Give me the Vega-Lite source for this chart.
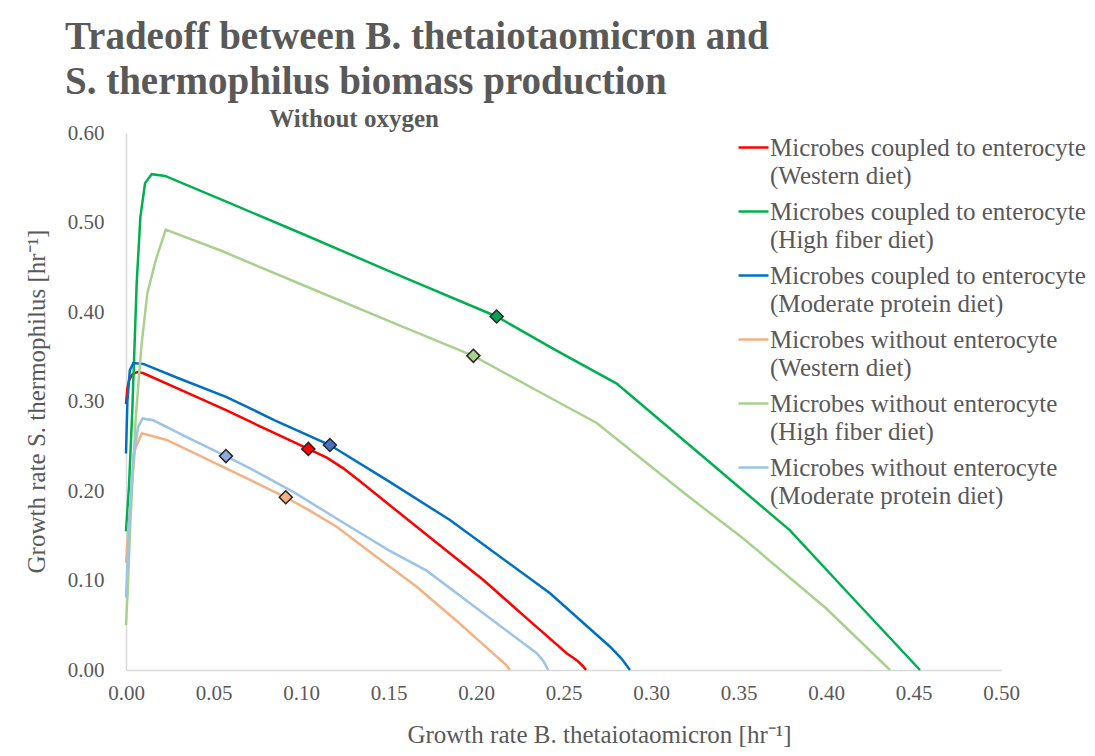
{
  "$schema": "https://vega.github.io/schema/vega-lite/v6.json",
  "width": 875,
  "height": 537,
  "autosize": {"type": "none"},
  "padding": {"left": 126, "top": 133, "right": 94, "bottom": 86},
  "background": "white",
  "title": {
    "text": ["Tradeoff between B. thetaiotaomicron and", "S. thermophilus biomass production"],
    "anchor": "start",
    "frame": "group",
    "dx": -61,
    "offset": 5,
    "font": "Liberation Serif",
    "fontSize": 39,
    "fontWeight": "bold",
    "color": "#595959",
    "lineHeight": 45
  },
  "config": {
    "view": {"stroke": null},
    "axis": {
      "domainColor": "#d9d9d9",
      "domainWidth": 1.5,
      "ticks": false,
      "grid": false,
      "labelFlush": false,
      "labelFont": "Liberation Serif",
      "labelFontSize": 21,
      "labelColor": "#595959",
      "titleFont": "Liberation Serif",
      "titleFontSize": 25,
      "titleFontWeight": "normal",
      "titleColor": "#595959"
    }
  },
  "datasets": {
    "lines": [
      {"s": "Microbes coupled to enterocyte|(Western diet)", "x": 0, "y": 0.297},
      {"s": "Microbes coupled to enterocyte|(Western diet)", "x": 0.0008, "y": 0.315},
      {"s": "Microbes coupled to enterocyte|(Western diet)", "x": 0.0018, "y": 0.324},
      {"s": "Microbes coupled to enterocyte|(Western diet)", "x": 0.0035, "y": 0.330},
      {"s": "Microbes coupled to enterocyte|(Western diet)", "x": 0.0065, "y": 0.333},
      {"s": "Microbes coupled to enterocyte|(Western diet)", "x": 0.0100, "y": 0.3315},
      {"s": "Microbes coupled to enterocyte|(Western diet)", "x": 0.030, "y": 0.314},
      {"s": "Microbes coupled to enterocyte|(Western diet)", "x": 0.0575, "y": 0.290},
      {"s": "Microbes coupled to enterocyte|(Western diet)", "x": 0.080, "y": 0.269},
      {"s": "Microbes coupled to enterocyte|(Western diet)", "x": 0.1042, "y": 0.247},
      {"s": "Microbes coupled to enterocyte|(Western diet)", "x": 0.115, "y": 0.237},
      {"s": "Microbes coupled to enterocyte|(Western diet)", "x": 0.1242, "y": 0.2253},
      {"s": "Microbes coupled to enterocyte|(Western diet)", "x": 0.135, "y": 0.209},
      {"s": "Microbes coupled to enterocyte|(Western diet)", "x": 0.147, "y": 0.190},
      {"s": "Microbes coupled to enterocyte|(Western diet)", "x": 0.175, "y": 0.146},
      {"s": "Microbes coupled to enterocyte|(Western diet)", "x": 0.2042, "y": 0.1006},
      {"s": "Microbes coupled to enterocyte|(Western diet)", "x": 0.230, "y": 0.056},
      {"s": "Microbes coupled to enterocyte|(Western diet)", "x": 0.2518, "y": 0.0187},
      {"s": "Microbes coupled to enterocyte|(Western diet)", "x": 0.2575, "y": 0.011},
      {"s": "Microbes coupled to enterocyte|(Western diet)", "x": 0.2610, "y": 0.0045},
      {"s": "Microbes coupled to enterocyte|(Western diet)", "x": 0.2629, "y": 0},

      {"s": "Microbes coupled to enterocyte|(High fiber diet)", "x": 0, "y": 0.155},
      {"s": "Microbes coupled to enterocyte|(High fiber diet)", "x": 0.0017, "y": 0.205},
      {"s": "Microbes coupled to enterocyte|(High fiber diet)", "x": 0.0036, "y": 0.29},
      {"s": "Microbes coupled to enterocyte|(High fiber diet)", "x": 0.0061, "y": 0.432},
      {"s": "Microbes coupled to enterocyte|(High fiber diet)", "x": 0.0082, "y": 0.506},
      {"s": "Microbes coupled to enterocyte|(High fiber diet)", "x": 0.0109, "y": 0.544},
      {"s": "Microbes coupled to enterocyte|(High fiber diet)", "x": 0.0147, "y": 0.554},
      {"s": "Microbes coupled to enterocyte|(High fiber diet)", "x": 0.0223, "y": 0.552},
      {"s": "Microbes coupled to enterocyte|(High fiber diet)", "x": 0.060, "y": 0.521},
      {"s": "Microbes coupled to enterocyte|(High fiber diet)", "x": 0.100, "y": 0.488},
      {"s": "Microbes coupled to enterocyte|(High fiber diet)", "x": 0.150, "y": 0.446},
      {"s": "Microbes coupled to enterocyte|(High fiber diet)", "x": 0.2118, "y": 0.395},
      {"s": "Microbes coupled to enterocyte|(High fiber diet)", "x": 0.245, "y": 0.358},
      {"s": "Microbes coupled to enterocyte|(High fiber diet)", "x": 0.2804, "y": 0.320},
      {"s": "Microbes coupled to enterocyte|(High fiber diet)", "x": 0.330, "y": 0.238},
      {"s": "Microbes coupled to enterocyte|(High fiber diet)", "x": 0.3794, "y": 0.156},
      {"s": "Microbes coupled to enterocyte|(High fiber diet)", "x": 0.415, "y": 0.081},
      {"s": "Microbes coupled to enterocyte|(High fiber diet)", "x": 0.4537, "y": 0},

      {"s": "Microbes coupled to enterocyte|(Moderate protein diet)", "x": 0, "y": 0.242},
      {"s": "Microbes coupled to enterocyte|(Moderate protein diet)", "x": 0.0008, "y": 0.300},
      {"s": "Microbes coupled to enterocyte|(Moderate protein diet)", "x": 0.0022, "y": 0.335},
      {"s": "Microbes coupled to enterocyte|(Moderate protein diet)", "x": 0.0042, "y": 0.343},
      {"s": "Microbes coupled to enterocyte|(Moderate protein diet)", "x": 0.0099, "y": 0.342},
      {"s": "Microbes coupled to enterocyte|(Moderate protein diet)", "x": 0.030, "y": 0.326},
      {"s": "Microbes coupled to enterocyte|(Moderate protein diet)", "x": 0.0575, "y": 0.305},
      {"s": "Microbes coupled to enterocyte|(Moderate protein diet)", "x": 0.085, "y": 0.279},
      {"s": "Microbes coupled to enterocyte|(Moderate protein diet)", "x": 0.1165, "y": 0.2514},
      {"s": "Microbes coupled to enterocyte|(Moderate protein diet)", "x": 0.150, "y": 0.211},
      {"s": "Microbes coupled to enterocyte|(Moderate protein diet)", "x": 0.1851, "y": 0.1676},
      {"s": "Microbes coupled to enterocyte|(Moderate protein diet)", "x": 0.2423, "y": 0.0857},
      {"s": "Microbes coupled to enterocyte|(Moderate protein diet)", "x": 0.2766, "y": 0.026},
      {"s": "Microbes coupled to enterocyte|(Moderate protein diet)", "x": 0.283, "y": 0.013},
      {"s": "Microbes coupled to enterocyte|(Moderate protein diet)", "x": 0.288, "y": 0},

      {"s": "Microbes without enterocyte|(Western diet)", "x": 0, "y": 0.12},
      {"s": "Microbes without enterocyte|(Western diet)", "x": 0.003, "y": 0.200},
      {"s": "Microbes without enterocyte|(Western diet)", "x": 0.0051, "y": 0.246},
      {"s": "Microbes without enterocyte|(Western diet)", "x": 0.009, "y": 0.2645},
      {"s": "Microbes without enterocyte|(Western diet)", "x": 0.0233, "y": 0.257},
      {"s": "Microbes without enterocyte|(Western diet)", "x": 0.050, "y": 0.232},
      {"s": "Microbes without enterocyte|(Western diet)", "x": 0.0709, "y": 0.2123},
      {"s": "Microbes without enterocyte|(Western diet)", "x": 0.0913, "y": 0.193},
      {"s": "Microbes without enterocyte|(Western diet)", "x": 0.105, "y": 0.178},
      {"s": "Microbes without enterocyte|(Western diet)", "x": 0.1204, "y": 0.160},
      {"s": "Microbes without enterocyte|(Western diet)", "x": 0.140, "y": 0.131},
      {"s": "Microbes without enterocyte|(Western diet)", "x": 0.1661, "y": 0.093},
      {"s": "Microbes without enterocyte|(Western diet)", "x": 0.190, "y": 0.053},
      {"s": "Microbes without enterocyte|(Western diet)", "x": 0.2118, "y": 0.0149},
      {"s": "Microbes without enterocyte|(Western diet)", "x": 0.2165, "y": 0.007},
      {"s": "Microbes without enterocyte|(Western diet)", "x": 0.2194, "y": 0},

      {"s": "Microbes without enterocyte|(High fiber diet)", "x": 0, "y": 0.050},
      {"s": "Microbes without enterocyte|(High fiber diet)", "x": 0.001, "y": 0.090},
      {"s": "Microbes without enterocyte|(High fiber diet)", "x": 0.0025, "y": 0.165},
      {"s": "Microbes without enterocyte|(High fiber diet)", "x": 0.0055, "y": 0.280},
      {"s": "Microbes without enterocyte|(High fiber diet)", "x": 0.0088, "y": 0.362},
      {"s": "Microbes without enterocyte|(High fiber diet)", "x": 0.0122, "y": 0.421},
      {"s": "Microbes without enterocyte|(High fiber diet)", "x": 0.017, "y": 0.458},
      {"s": "Microbes without enterocyte|(High fiber diet)", "x": 0.0227, "y": 0.492},
      {"s": "Microbes without enterocyte|(High fiber diet)", "x": 0.0537, "y": 0.469},
      {"s": "Microbes without enterocyte|(High fiber diet)", "x": 0.100, "y": 0.431},
      {"s": "Microbes without enterocyte|(High fiber diet)", "x": 0.150, "y": 0.390},
      {"s": "Microbes without enterocyte|(High fiber diet)", "x": 0.1985, "y": 0.351},
      {"s": "Microbes without enterocyte|(High fiber diet)", "x": 0.235, "y": 0.312},
      {"s": "Microbes without enterocyte|(High fiber diet)", "x": 0.269, "y": 0.276},
      {"s": "Microbes without enterocyte|(High fiber diet)", "x": 0.320, "y": 0.196},
      {"s": "Microbes without enterocyte|(High fiber diet)", "x": 0.3527, "y": 0.147},
      {"s": "Microbes without enterocyte|(High fiber diet)", "x": 0.400, "y": 0.069},
      {"s": "Microbes without enterocyte|(High fiber diet)", "x": 0.4366, "y": 0},

      {"s": "Microbes without enterocyte|(Moderate protein diet)", "x": 0, "y": 0.081},
      {"s": "Microbes without enterocyte|(Moderate protein diet)", "x": 0.002, "y": 0.170},
      {"s": "Microbes without enterocyte|(Moderate protein diet)", "x": 0.0042, "y": 0.238},
      {"s": "Microbes without enterocyte|(Moderate protein diet)", "x": 0.007, "y": 0.272},
      {"s": "Microbes without enterocyte|(Moderate protein diet)", "x": 0.0095, "y": 0.281},
      {"s": "Microbes without enterocyte|(Moderate protein diet)", "x": 0.0156, "y": 0.279},
      {"s": "Microbes without enterocyte|(Moderate protein diet)", "x": 0.035, "y": 0.260},
      {"s": "Microbes without enterocyte|(Moderate protein diet)", "x": 0.0571, "y": 0.239},
      {"s": "Microbes without enterocyte|(Moderate protein diet)", "x": 0.0709, "y": 0.2253},
      {"s": "Microbes without enterocyte|(Moderate protein diet)", "x": 0.0956, "y": 0.199},
      {"s": "Microbes without enterocyte|(Moderate protein diet)", "x": 0.128, "y": 0.160},
      {"s": "Microbes without enterocyte|(Moderate protein diet)", "x": 0.150, "y": 0.134},
      {"s": "Microbes without enterocyte|(Moderate protein diet)", "x": 0.1718, "y": 0.111},
      {"s": "Microbes without enterocyte|(Moderate protein diet)", "x": 0.200, "y": 0.0695},
      {"s": "Microbes without enterocyte|(Moderate protein diet)", "x": 0.2347, "y": 0.0187},
      {"s": "Microbes without enterocyte|(Moderate protein diet)", "x": 0.2385, "y": 0.010},
      {"s": "Microbes without enterocyte|(Moderate protein diet)", "x": 0.2413, "y": 0}
    ],
    "markers": [
      {"m": "red", "x": 0.1042, "y": 0.247},
      {"m": "blue", "x": 0.1165, "y": 0.2514},
      {"m": "lightblue", "x": 0.0571, "y": 0.239},
      {"m": "orange", "x": 0.0913, "y": 0.193},
      {"m": "green", "x": 0.2118, "y": 0.395},
      {"m": "lightgreen", "x": 0.1985, "y": 0.351}
    ]
  },
  "layer": [
    {
      "data": {"name": "lines"},
      "mark": {"type": "line", "strokeWidth": 2.5},
      "encoding": {
        "x": {
          "field": "x", "type": "quantitative",
          "scale": {"domain": [0, 0.5], "nice": false, "zero": false},
          "axis": {
            "values": [0, 0.05, 0.1, 0.15, 0.2, 0.25, 0.3, 0.35, 0.4, 0.45, 0.5],
            "format": ".2f",
            "labelPadding": 12,
            "title": "Growth rate B. thetaiotaomicron [hr⁻¹]",
            "titleX": 473,
            "titleY": 72,
            "titleBaseline": "alphabetic",
            "titleAlign": "center"
          }
        },
        "y": {
          "field": "y", "type": "quantitative",
          "scale": {"domain": [0, 0.6], "nice": false, "zero": false},
          "axis": {
            "values": [0, 0.1, 0.2, 0.3, 0.4, 0.5, 0.6],
            "format": ".2f",
            "labelPadding": 22,
            "title": "Growth rate S. thermophilus [hr⁻¹]",
            "titleX": -82,
            "titleY": 268,
            "titleAngle": -90,
            "titleBaseline": "alphabetic",
            "titleAlign": "center"
          }
        },
        "color": {
          "field": "s", "type": "nominal",
          "scale": {
            "domain": [
              "Microbes coupled to enterocyte|(Western diet)",
              "Microbes coupled to enterocyte|(High fiber diet)",
              "Microbes coupled to enterocyte|(Moderate protein diet)",
              "Microbes without enterocyte|(Western diet)",
              "Microbes without enterocyte|(High fiber diet)",
              "Microbes without enterocyte|(Moderate protein diet)"
            ],
            "range": ["#FF0000", "#00B050", "#0070C0", "#F4B183", "#A9D18E", "#9DC3E6"]
          },
          "legend": {
            "orient": "none",
            "legendX": 611,
            "legendY": -2,
            "title": null,
            "padding": 0,
            "symbolType": "stroke",
            "symbolSize": 900,
            "symbolStrokeWidth": 2.5,
            "labelFont": "Liberation Serif",
            "labelFontSize": 25,
            "labelColor": "#595959",
            "labelLimit": 400,
            "labelOffset": 0,
            "labelExpr": "split(datum.label, '|')",
            "labelBaseline": "middle",
            "rowPadding": 6,
            "encode": {
              "labels": {"update": {"lineHeight": {"value": 28}}}
            }
          }
        }
      }
    },
    {
      "data": {"name": "markers"},
      "mark": {"type": "point", "shape": "diamond", "filled": true, "size": 170, "stroke": "#262626", "strokeWidth": 1.5, "opacity": 1},
      "encoding": {
        "x": {"field": "x", "type": "quantitative"},
        "y": {"field": "y", "type": "quantitative"},
        "fill": {
          "field": "m", "type": "nominal",
          "scale": {
            "domain": ["red", "blue", "lightblue", "orange", "green", "lightgreen"],
            "range": ["#FF0000", "#4472C4", "#8FAADC", "#F4B183", "#00A650", "#A9D18E"]
          },
          "legend": null
        }
      }
    },
    {
      "data": {"values": [{}]},
      "mark": {"type": "text", "text": "Without oxygen", "font": "Liberation Serif", "fontSize": 25, "fontWeight": "bold", "color": "#595959", "baseline": "alphabetic", "align": "center"},
      "encoding": {"x": {"datum": 0.1303}, "y": {"datum": 0.607}}
    }
  ]
}
